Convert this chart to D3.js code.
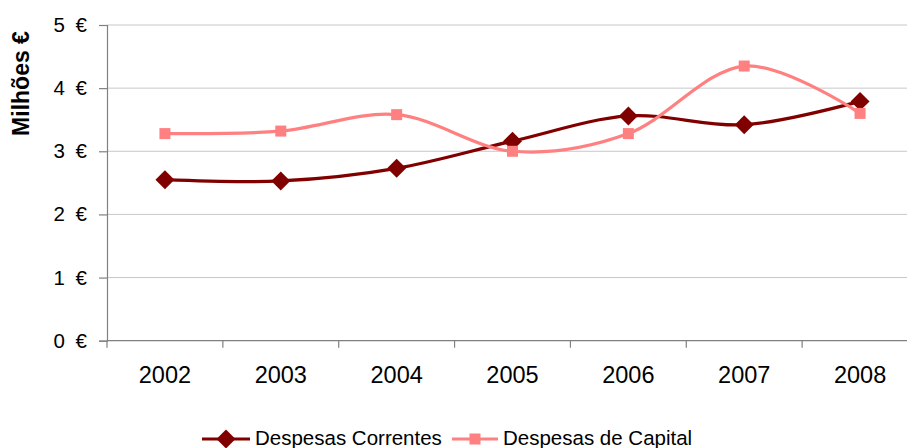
<!DOCTYPE html>
<html>
<head>
<meta charset="utf-8">
<script src="https://cdn.jsdelivr.net/npm/d3@7"></script>
<style>
  html, body { margin: 0; padding: 0; background: #fff; }
  svg { display: block; font-family: "Liberation Sans", Arial, sans-serif; }
</style>
</head>
<body>
<svg id="chart" width="907" height="448"></svg>
<script>
// Annual expenditure, in millions of euros
const years = ["2002", "2003", "2004", "2005", "2006", "2007", "2008"];
const correntes = [2.55, 2.53, 2.73, 3.16, 3.56, 3.42, 3.79];
const capital = [3.28, 3.32, 3.58, 3.00, 3.28, 4.35, 3.60];
const yTicks = [0, 1, 2, 3, 4, 5];
const seriesNames = ["Despesas Correntes", "Despesas de Capital"];
const seriesColors = ["#800000", "#FF8080"];

const svg = d3.select("#chart");
const plotLeft = 107, plotRight = 918, plotTop = 25, plotBottom = 340.7;

const x = d3.scaleBand().domain(years).range([plotLeft, plotRight]).paddingInner(0).paddingOuter(0);
const y = d3.scaleLinear().domain([0, 5]).range([plotBottom, plotTop]);

// Horizontal gridlines
svg.append("g")
  .selectAll("line")
  .data(yTicks.filter(d => d > 0))
  .join("line")
  .attr("x1", plotLeft).attr("x2", plotRight)
  .attr("y1", d => y(d)).attr("y2", d => y(d))
  .attr("stroke", "#c8c8c8").attr("stroke-width", 1);

// Y axis
const yAxis = svg.append("g")
  .attr("transform", `translate(${plotLeft},0)`)
  .call(d3.axisLeft(y).tickValues(yTicks).tickSize(8).tickPadding(12)
    .tickFormat(d => d + " €"));
yAxis.select(".domain").attr("stroke", "#808080").attr("stroke-width", 1.2);
yAxis.selectAll(".tick line").attr("stroke", "#808080").attr("stroke-width", 1.2);
yAxis.selectAll(".tick text").attr("font-size", 20.5).attr("fill", "#000")
  .attr("word-spacing", 5)
  .attr("font-family", "'Liberation Sans', Arial, sans-serif");

// X axis with ticks between categories
const xAxisG = svg.append("g").attr("transform", `translate(0,${plotBottom})`);
xAxisG.append("line")
  .attr("x1", plotLeft).attr("x2", plotRight).attr("y1", 0).attr("y2", 0)
  .attr("stroke", "#808080").attr("stroke-width", 1.2);
const boundaries = years.map(d => x(d)).concat([x(years[years.length - 1]) + x.bandwidth()]);
xAxisG.selectAll("line.tk")
  .data(boundaries)
  .join("line").attr("class", "tk")
  .attr("x1", d => d).attr("x2", d => d)
  .attr("y1", 0).attr("y2", 7)
  .attr("stroke", "#808080").attr("stroke-width", 1.2);
xAxisG.selectAll("text")
  .data(years)
  .join("text")
  .attr("x", d => x(d) + x.bandwidth() / 2)
  .attr("y", 42)
  .attr("text-anchor", "middle")
  .attr("font-size", 23.5)
  .attr("fill", "#000")
  .text(d => d);

// Y axis title
svg.append("text")
  .attr("transform", "translate(29,83.5) rotate(-90)")
  .attr("text-anchor", "middle")
  .attr("font-size", 23)
  .attr("font-weight", "bold")
  .text("Milhões €");

// Smoothed series lines
const line = d3.line()
  .x((d, i) => x(years[i]) + x.bandwidth() / 2)
  .y(d => y(d))
  .curve(d3.curveCardinal.tension(0));

const series = [correntes, capital];
series.forEach((vals, si) => {
  svg.append("path")
    .datum(vals)
    .attr("d", line)
    .attr("fill", "none")
    .attr("stroke", seriesColors[si])
    .attr("stroke-width", 3.2);
});

function drawMarker(g, si, cx, cy) {
  if (si === 0) {
    g.append("rect")
      .attr("x", -6.7).attr("y", -6.7).attr("width", 13.4).attr("height", 13.4)
      .attr("transform", `translate(${cx},${cy}) rotate(45)`)
      .attr("fill", seriesColors[0]);
  } else {
    g.append("rect")
      .attr("x", cx - 5.5).attr("y", cy - 5.5).attr("width", 11).attr("height", 11)
      .attr("fill", seriesColors[1]);
  }
}

series.forEach((vals, si) => {
  const g = svg.append("g");
  vals.forEach((v, i) => drawMarker(g, si, x(years[i]) + x.bandwidth() / 2, y(v)));
});

// Legend
const legendItems = [
  { x1: 202, x2: 250, tx: 255 },
  { x1: 452, x2: 498, tx: 503 }
];
const ly = 439;
legendItems.forEach((it, si) => {
  const g = svg.append("g");
  g.append("line")
    .attr("x1", it.x1).attr("x2", it.x2).attr("y1", ly).attr("y2", ly)
    .attr("stroke", seriesColors[si]).attr("stroke-width", 3.2);
  drawMarker(g, si, (it.x1 + it.x2) / 2, ly);
  g.append("text")
    .attr("x", it.tx).attr("y", ly + 6)
    .attr("font-size", 20.5)
    .attr("fill", "#000")
    .text(seriesNames[si]);
});
</script>
</body>
</html>
